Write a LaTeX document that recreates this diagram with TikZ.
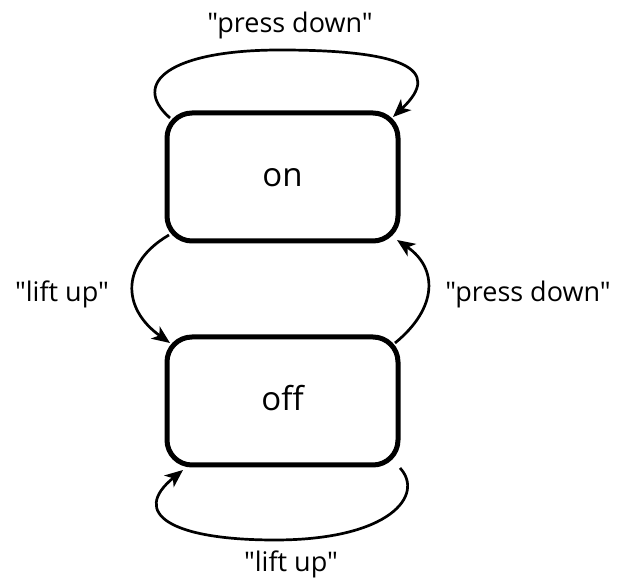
\documentclass[tikz,border=0pt]{standalone}
\usepackage{fontspec}
\newfontfamily\diagfont{Open Sans}
\usetikzlibrary{calc}
\usetikzlibrary{arrows.meta}
\usetikzlibrary{positioning}

\begin{document}
\begin{tikzpicture}[x=1pt,y=1pt,
  statebox/.style={draw, line width=5pt, rounded corners=25pt, minimum width=231pt, minimum height=128pt, outer sep=0pt, inner sep=0pt, text height=20pt, text depth=0pt, font=\diagfont\fontsize{33}{40}\selectfont},
  lbl/.style={font=\diagfont\fontsize{27}{32}\selectfont, inner sep=0pt, anchor=base},
  trans/.style={line width=2.7pt, -{Stealth[length=18pt,width=15pt,inset=5pt]}}]
\useasboundingbox (0,0) rectangle (618,583);

\node[statebox] (on) at (282.5,406) {on};
\node[statebox, below=96pt of on] (off) {off};

\node[lbl] (pressTop) at (290,550) {"press down"};
\node[lbl] (liftLeft) at (62,281) {"lift up"};
\node[lbl] (pressRight) at (528,281) {"press down"};
\node[lbl] (liftBottom) at (291,11) {"lift up"};

\draw[trans] ($(on.north west)+(3,-5)$) .. controls +(-40,35) and +(-110,0) .. ($(on.north)+(-2.5,63)$) .. controls +(120,0) and +(52,49) .. ($(on.north east)+(-5,-4)$);
\draw[trans] ($(on.south west)+(2,6)$) .. controls +(-48,-28) and +(-49,35) .. ($(off.north west)+(3,-6)$);
\draw[trans] ($(off.north east)+(-3,-6)$) .. controls +(43,35) and +(41,-28) .. ($(on.south east)+(-1,1)$);
\draw[trans] ($(off.south east)+(2,-3)$) .. controls +(25,-27) and +(115,0) .. ($(off.south)+(-7.5,-75)$) .. controls +(-105,0) and +(-53,-43) .. ($(off.south west)+(16,-5)$);

\end{tikzpicture}
\end{document}
